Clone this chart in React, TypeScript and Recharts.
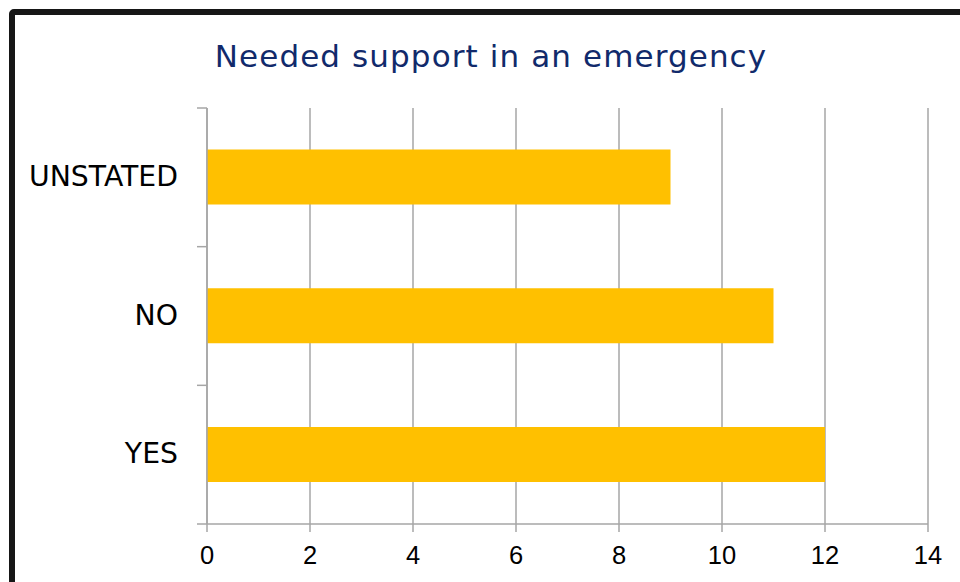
import React from "react";
import { BarChart, Bar, XAxis, YAxis, CartesianGrid } from "recharts";

const categories = ["UNSTATED", "NO", "YES"];
const counts = [9, 11, 12];
const xTicks = [0, 2, 4, 6, 8, 10, 12, 14];
const title = "Needed support in an emergency";

const data = categories.map((c, i) => ({ category: c, value: counts[i] }));

const AXIS_X = 207;

const CategoryTick = (props: any) => {
  const { y, payload, index } = props;
  const off = payload.offset || 0;
  const cy = payload.coordinate ?? y;
  return (
    <g>
      <line x1={AXIS_X - 10} x2={AXIS_X} y1={cy - off} y2={cy - off} stroke="#a6a6a6" strokeWidth={1.5} />
      {index === categories.length - 1 && (
        <line x1={AXIS_X - 10} x2={AXIS_X} y1={cy + off} y2={cy + off} stroke="#a6a6a6" strokeWidth={1.5} />
      )}
      <text
        x={178}
        y={cy}
        dy="0.31em"
        textAnchor="end"
        fill="#000"
        fontSize={28.3}
        fontFamily="'DejaVu Sans', sans-serif"
      >
        {payload.value}
      </text>
    </g>
  );
};

export default function App() {
  return (
    <div style={{ position: "absolute", left: 0, top: 0, width: 960, height: 582, overflow: "hidden", background: "#fff" }}>
      <div
        style={{
          position: "absolute",
          left: 9,
          top: 9,
          width: 980,
          height: 620,
          border: "6px solid #161616",
          borderRadius: 5,
          boxSizing: "border-box",
        }}
      />
      <div style={{ position: "absolute", left: 0, top: 0 }}>
        <BarChart
          width={960}
          height={582}
          data={data}
          layout="vertical"
          margin={{ top: 108, right: 32, bottom: 0, left: 0 }}
          barCategoryGap="30%"
        >
          <text
            x={491}
            y={67}
            textAnchor="middle"
            fill="#112a6b"
            fontSize={31}
            letterSpacing={1.1}
            fontFamily="'DejaVu Sans', sans-serif"
          >
            {title}
          </text>
          <CartesianGrid horizontal={false} vertical={true} stroke="#a6a6a6" strokeWidth={1.5} />
          <XAxis
            type="number"
            domain={[0, 14]}
            ticks={xTicks}
            height={58}
            tickSize={8}
            tickMargin={14}
            axisLine={{ stroke: "#a6a6a6", strokeWidth: 1.5 }}
            tickLine={{ stroke: "#a6a6a6", strokeWidth: 1.5 }}
            tick={{ fill: "#000", fontSize: 25.5, fontFamily: "'Liberation Sans', Arial, sans-serif" }}
            interval={0}
          />
          <YAxis
            type="category"
            dataKey="category"
            width={207}
            axisLine={{ stroke: "#a6a6a6", strokeWidth: 1.5 }}
            tickLine={false}
            tick={<CategoryTick />}
            interval={0}
          />
          <Bar dataKey="value" fill="#FFC000" isAnimationActive={false} />
        </BarChart>
      </div>
    </div>
  );
}
